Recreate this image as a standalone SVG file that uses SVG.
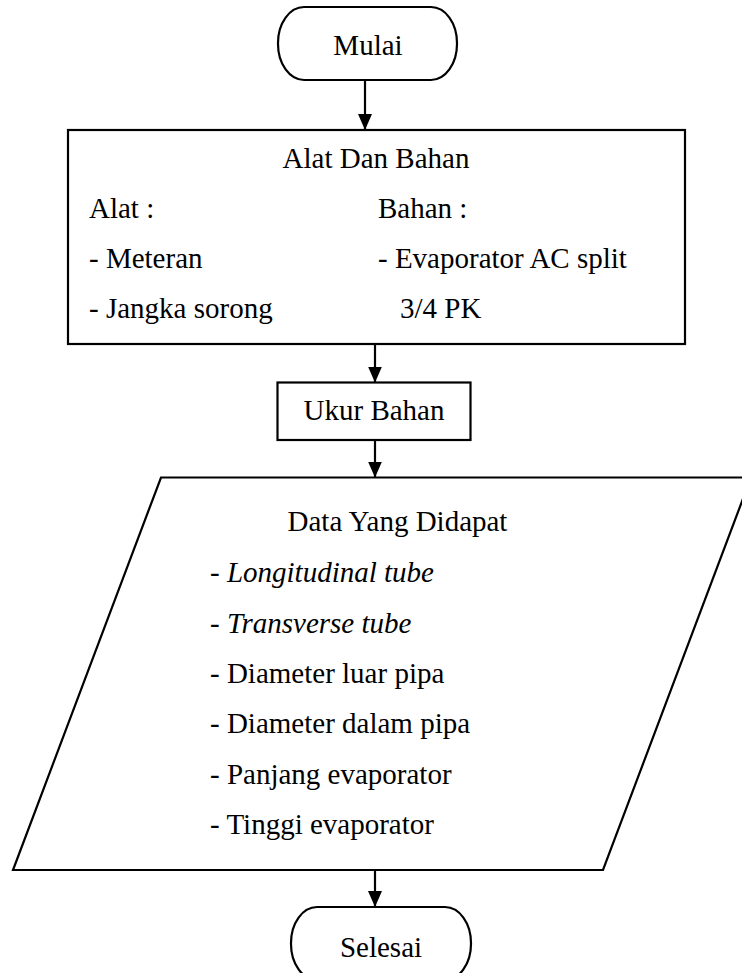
<svg xmlns="http://www.w3.org/2000/svg" width="742" height="973" viewBox="0 0 742 973">
<style>
.s{fill:#fff;stroke:#000;stroke-width:2.2}
.t{font-family:"Liberation Serif","Times New Roman",serif;font-size:29px;fill:#000}
.c{text-anchor:middle}
.i{font-style:italic}
.l{stroke:#000;stroke-width:2.2;fill:none}
</style>
<defs>
<marker id="ah" markerUnits="userSpaceOnUse" markerWidth="16" markerHeight="16" refX="16" refY="7" orient="auto">
<path d="M0,0 L16,7 L0,14 z" fill="#000"/>
</marker>
</defs>
<rect width="742" height="973" fill="#fff"/>
<g id="connectors">
<line class="l" x1="365" y1="80" x2="365" y2="130" marker-end="url(#ah)"/>
<line class="l" x1="375" y1="344" x2="375" y2="382.5" marker-end="url(#ah)"/>
<line class="l" x1="375" y1="440" x2="375" y2="477.5" marker-end="url(#ah)"/>
<line class="l" x1="375" y1="870" x2="375" y2="907" marker-end="url(#ah)"/>
</g>
<g id="mulai">
<rect class="s" x="278" y="7" width="179" height="73" rx="26" ry="36"/>
<text class="t c" x="368" y="55">Mulai</text>
</g>
<g id="alat-bahan">
<rect class="s" x="68" y="130" width="617" height="214"/>
<text class="t c" x="376" y="168">Alat Dan Bahan</text>
<text class="t" x="89" y="218">Alat :</text>
<text class="t" x="378" y="218">Bahan :</text>
<text class="t" x="89" y="268">- Meteran</text>
<text class="t" x="378" y="268">- Evaporator AC split</text>
<text class="t" x="89" y="318">- Jangka sorong</text>
<text class="t" x="400" y="318">3/4 PK</text>
</g>
<g id="ukur">
<rect class="s" x="277.5" y="382.5" width="193" height="57.5"/>
<text class="t c" x="374" y="420">Ukur Bahan</text>
</g>
<g id="data">
<polygon class="s" points="161,477.5 751,477.5 603,870 13,870"/>
<text class="t c" x="397.5" y="531">Data Yang Didapat</text>
<text class="t" x="210" y="582">- <tspan class="i">Longitudinal tube</tspan></text>
<text class="t" x="210" y="633">- <tspan class="i">Transverse tube</tspan></text>
<text class="t" x="210" y="683">- Diameter luar pipa</text>
<text class="t" x="210" y="733">- Diameter dalam pipa</text>
<text class="t" x="210" y="784">- Panjang evaporator</text>
<text class="t" x="210" y="834">- Tinggi evaporator</text>
</g>
<g id="selesai">
<rect class="s" x="291" y="907" width="180" height="73" rx="26" ry="36"/>
<text class="t c" x="381" y="957">Selesai</text>
</g>
</svg>
